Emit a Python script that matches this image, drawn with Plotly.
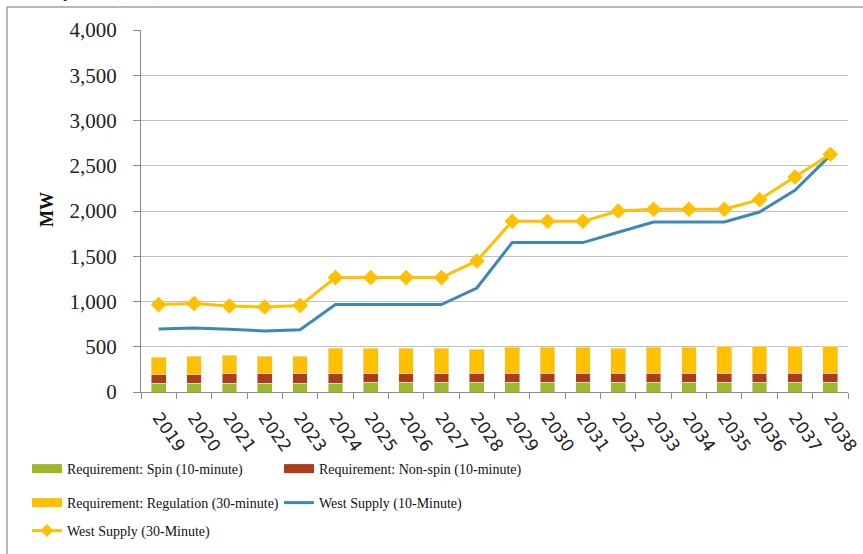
import plotly.graph_objects as go

years = ["2019", "2020", "2021", "2022", "2023", "2024", "2025", "2026", "2027", "2028",
         "2029", "2030", "2031", "2032", "2033", "2034", "2035", "2036", "2037", "2038"]
spin = [95, 95, 95, 95, 95, 95, 107, 107, 107, 107,
        107, 107, 107, 107, 107, 107, 107, 107, 107, 107]
nonspin = [97, 97, 104, 104, 104, 104, 92, 92, 92, 103,
           103, 103, 103, 103, 103, 103, 103, 103, 103, 103]
regulation = [191, 202, 206, 195, 195, 287, 287, 287, 287, 262,
              287, 287, 287, 273, 287, 287, 298, 298, 298, 298]
west10 = [696, 707, 693, 674, 689, 966, 966, 966, 966, 1149,
          1651, 1651, 1651, 1765, 1879, 1879, 1879, 1989, 2229, 2615]
west30 = [966, 977, 950, 939, 955, 1264, 1264, 1264, 1264, 1448,
          1886, 1886, 1886, 2000, 2019, 2019, 2019, 2126, 2376, 2627]

C_SPIN = "#9cb82b"
C_NON = "#ad3c1c"
C_REG = "#ffc000"
C_W10 = "#3e88b8"
C_W30 = "#ffc000"

W, H = 863, 554
L, R, T, B = 141, 15, 30, 162
PW, PH = W - L - R, H - T - B

def px_x(p):
    return (p - L) / PW

def px_y(p):
    return (H - B - p) / PH

serif = "Liberation Serif, Times New Roman, serif"
sans = "DejaVu Sans, sans-serif"

fig = go.Figure()
fig.add_trace(go.Bar(x=years, y=spin, marker_color=C_SPIN, showlegend=False,
                     name="Requirement: Spin (10-minute)"))
fig.add_trace(go.Bar(x=years, y=nonspin, marker_color=C_NON, showlegend=False,
                     name="Requirement: Non-spin (10-minute)"))
fig.add_trace(go.Bar(x=years, y=regulation, marker_color=C_REG, showlegend=False,
                     name="Requirement: Regulation (30-minute)"))
fig.add_trace(go.Scatter(x=years, y=west10, mode="lines", showlegend=False,
                         line=dict(color=C_W10, width=3),
                         name="West Supply (10-Minute)"))
fig.add_trace(go.Scatter(x=years, y=west30, mode="lines+markers", showlegend=False,
                         line=dict(color=C_W30, width=3),
                         marker=dict(symbol="diamond", size=12, color=C_W30),
                         name="West Supply (30-Minute)"))

# legend entries (one legend per entry for exact placement)
entries = [
    ("Requirement: Spin (10-minute)", dict(mode="lines", line=dict(color=C_SPIN, width=9)), "legend", 27, 469),
    ("Requirement: Non-spin (10-minute)", dict(mode="lines", line=dict(color=C_NON, width=9)), "legend2", 279, 469),
    ("Requirement: Regulation (30-minute)", dict(mode="lines", line=dict(color=C_REG, width=9)), "legend3", 27, 503),
    ("West Supply (10-Minute)", dict(mode="lines", line=dict(color=C_W10, width=3)), "legend4", 279, 503),
    ("West Supply (30-Minute)", dict(mode="lines+markers", line=dict(color=C_W30, width=3),
                                     marker=dict(symbol="diamond", size=10, color=C_W30)), "legend5", 27, 531),
]
legend_layouts = {}
for name, style, lg, lx, ly in entries:
    fig.add_trace(go.Scatter(x=[None], y=[None], name=name, legend=lg, showlegend=True, **style))
    legend_layouts[lg] = dict(
        xref="container", yref="container",
        x=lx / W, y=1 - ly / H, xanchor="left", yanchor="middle",
        orientation="h", bgcolor="rgba(0,0,0,0)",
        font=dict(family=serif, size=14, color="#111"),
    )

fig.update_layout(
    width=W, height=H, autosize=False,
    margin=dict(l=L, r=R, t=T, b=B),
    barmode="stack", bargap=0.584,
    plot_bgcolor="white", paper_bgcolor="white",
    xaxis=dict(type="category", range=[-0.5, 19.5], showgrid=False, automargin=False,
               showline=True, linecolor="#8c8c8c", linewidth=1,
               ticks="outside", tickson="boundaries", ticklen=6, tickcolor="#8c8c8c",
               ticklabelstandoff=8,
               tickangle=55, tickfont=dict(family=sans, size=17, color="#222")),
    yaxis=dict(range=[0, 4000], dtick=500, tickformat=",", showgrid=True, automargin=False,
               gridcolor="#c0c0c0", gridwidth=1, zeroline=False,
               showline=True, linecolor="#8c8c8c", linewidth=1,
               ticks="outside", ticklen=7, tickcolor="#8c8c8c",
               ticklabelstandoff=12,
               tickfont=dict(family=serif, size=21, color="#222")),
    annotations=[
        dict(text="<b>MW</b>", xref="paper", yref="paper", x=px_x(47), y=px_y(209),
             xanchor="center", yanchor="middle",
             textangle=-90, showarrow=False, font=dict(family=serif, size=18, color="#111")),
        dict(text="<b>Authority Area (MW)</b>", xref="paper", yref="paper",
             x=px_x(-2), y=px_y(3), xanchor="left", yanchor="bottom", showarrow=False,
             font=dict(family=serif, size=17, color="#111")),
    ],
    shapes=[
        dict(type="line", xref="paper", yref="paper", x0=px_x(7), x1=px_x(7),
             y0=px_y(7), y1=px_y(560), line=dict(color="#a0a0a0", width=1.5)),
        dict(type="line", xref="paper", yref="paper", x0=px_x(7), x1=px_x(870),
             y0=px_y(7), y1=px_y(7), line=dict(color="#a0a0a0", width=1.5)),
    ],
    **legend_layouts,
)

fig.write_html("out.html", config={"displayModeBar": False},
               post_script="document.body.style.margin='0';")
